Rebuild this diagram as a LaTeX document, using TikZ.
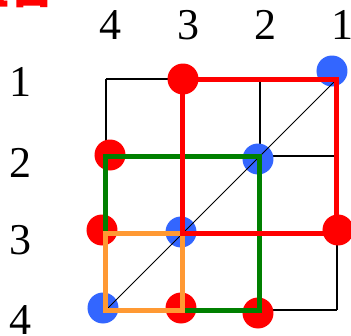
\documentclass[tikz,border=0pt]{standalone}
\usepackage{fontspec}
\setmainfont{Liberation Serif}
\newfontfamily\cjkfont{Noto Sans CJK SC}
\usepackage{xcolor}
\usetikzlibrary{positioning,calc}
\definecolor{dotred}{RGB}{255,0,0}
\definecolor{dotblue}{RGB}{51,102,255}
\definecolor{sqgreen}{RGB}{0,128,0}
\definecolor{sqorange}{RGB}{255,153,51}

\begin{document}
\begin{tikzpicture}[x=0.75pt, y=-0.75pt,
    every node/.style={font=\fontsize{33}{36}\selectfont, inner sep=0pt},
    dot/.style={circle, minimum size=23.25pt},
    reddot/.style={dot, fill=dotred},
    bluedot/.style={dot, fill=dotblue},
    gridline/.style={black, line width=0.9pt},
    square/.style={line width=3.75pt}]
  \useasboundingbox (0,0) rectangle (351,336);
  \foreach \r in {1,...,4}
    \foreach \c in {1,...,4}
      \coordinate (p\r\c) at ({106+77*(4-\c)},{79+77*(\r-1)});
  \node[text=dotred, font=\cjkfont\bfseries\fontsize{35}{40}\selectfont, anchor=base west] (title) at (-38,3) {组合};
  \node (c4) at (110,25) {4};
  \node (c3) at (188,25) {3};
  \node (c2) at (265,25) {2};
  \node (c1) at (342,25) {1};
  \node (r1) at (20,82) {1};
  \node (r2) at (20,163) {2};
  \node (r3) at (20,240) {3};
  \node (r4) at (20,320) {4};
  \foreach \r in {1,...,4}
    \draw[gridline] (p\r4) -- (p\r1);
  \foreach \c in {1,...,4}
    \draw[gridline] (p1\c) -- (p4\c);
  \node[reddot] (d13) at (p13) {};
  \node[bluedot] (d11) at ($(p11)+(-5,-8)$) {};
  \node[reddot] (d24) at ($(p24)+(4,-1)$) {};
  \node[bluedot] (d22) at ($(p22)+(-2,3)$) {};
  \node[reddot] (d34) at ($(p34)+(-4,-3)$) {};
  \node[bluedot] (d33) at ($(p33)+(-2,-1)$) {};
  \node[reddot] (d31) at ($(p31)+(1,-3)$) {};
  \node[bluedot] (d44) at ($(p44)+(-3,-2)$) {};
  \node[reddot] (d43) at ($(p43)+(-2,-2)$) {};
  \node[reddot] (d42) at ($(p42)+(-2,3)$) {};
  \draw[black, line width=0.75pt] (p44) -- (p11);
  \draw[square, sqgreen] (p24) rectangle (p42);
  \draw[square, sqorange] (p34) rectangle (p43);
  \draw[square, dotred] (p13) rectangle (p31);
\end{tikzpicture}
\end{document}
